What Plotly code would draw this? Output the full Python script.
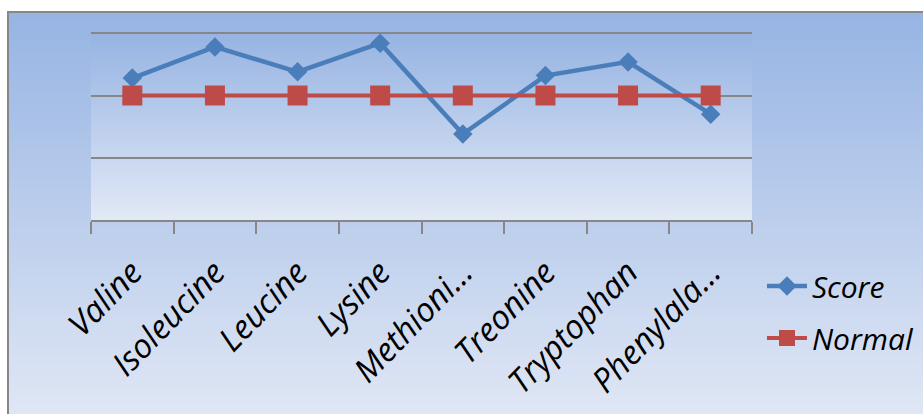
import plotly.graph_objects as go

# Amino acid scores against the normal reference level
amino_acids = ["Valine", "Isoleucine", "Leucine", "Lysine", "Methioni…",
               "Treonine", "Tryptophan", "Phenylala…"]
score = [114, 139, 119, 142, 69, 116, 127, 85]
normal = [100, 100, 100, 100, 100, 100, 100, 100]

W, H = 923, 414
ML, MR, MT, MB = 91, 171, 32, 194
PW, PH = W - ML - MR, H - MT - MB


def px_to_paper_x(px):
    return (px - ML) / PW


def px_to_paper_y(py):
    return (H - MB - py) / PH


def lerp(c1, c2, t):
    return "rgb(%d,%d,%d)" % tuple(round(a + (b - a) * t) for a, b in zip(c1, c2))


def gradient_strips(x0, y0, x1, y1, top, bottom, n=60):
    shapes = []
    step = (y1 - y0) / n
    for i in range(n):
        ya = y0 + i * step
        yb = ya + step + 0.8
        shapes.append(dict(
            type="rect", xref="paper", yref="paper", layer="below",
            x0=px_to_paper_x(x0), x1=px_to_paper_x(x1),
            y0=px_to_paper_y(ya), y1=px_to_paper_y(min(yb, y1)),
            fillcolor=lerp(top, bottom, (i + 0.5) / n), line=dict(width=0),
        ))
    return shapes


shapes = []
# chart area background and frame
shapes += gradient_strips(8, 12, W + 2, H + 2, (150, 180, 227), (224, 231, 245))
shapes.append(dict(
    type="rect", xref="paper", yref="paper", layer="below",
    x0=px_to_paper_x(8), x1=px_to_paper_x(W + 4),
    y0=px_to_paper_y(12), y1=px_to_paper_y(H + 4),
    line=dict(color="#878787", width=2), fillcolor="rgba(0,0,0,0)",
))
# plot area background
shapes += gradient_strips(ML, MT, ML + PW, MT + PH, (150, 179, 226), (226, 233, 246))

fig = go.Figure()
fig.add_trace(go.Scatter(
    x=amino_acids, y=score, name="Score", mode="lines+markers",
    line=dict(color="#4a7ebb", width=4.5),
    marker=dict(symbol="diamond", size=15, color="#4a7ebb"),
    legendgroup="a",
))
fig.add_trace(go.Scatter(
    x=amino_acids, y=normal, name="Normal", mode="lines+markers",
    line=dict(color="#be4b48", width=4),
    marker=dict(symbol="square", size=20, color="#be4b48"),
    legendgroup="b",
))

fig.update_layout(
    width=W, height=H,
    margin=dict(l=ML, r=MR, t=MT, b=MB, pad=0, autoexpand=False),
    paper_bgcolor="white",
    plot_bgcolor="rgba(0,0,0,0)",
    shapes=shapes,
    font=dict(family="Open Sans", color="black"),
    legend=dict(
        x=px_to_paper_x(762), xanchor="left", y=px_to_paper_y(260), yanchor="top",
        font=dict(size=30, style="italic", color="black"),
        bgcolor="rgba(0,0,0,0)", traceorder="grouped", tracegroupgap=10,
        itemwidth=40,
    ),
    xaxis=dict(
        type="category", range=[-0.5, 7.5], tickson="boundaries",
        ticks="outside", ticklen=12, tickwidth=1.5, tickcolor="#878787",
        showline=True, linecolor="#878787", linewidth=1.5, showgrid=False,
        tickangle=-46, ticklabelstandoff=18,
        tickfont=dict(size=33, style="italic", color="black"),
    ),
    yaxis=dict(
        range=[0, 151], tickvals=[0, 50, 100, 150], showticklabels=False,
        ticks="", showgrid=True, gridcolor="#878787", gridwidth=1.5,
        zeroline=False,
    ),
)

fig.write_html("out.html")
